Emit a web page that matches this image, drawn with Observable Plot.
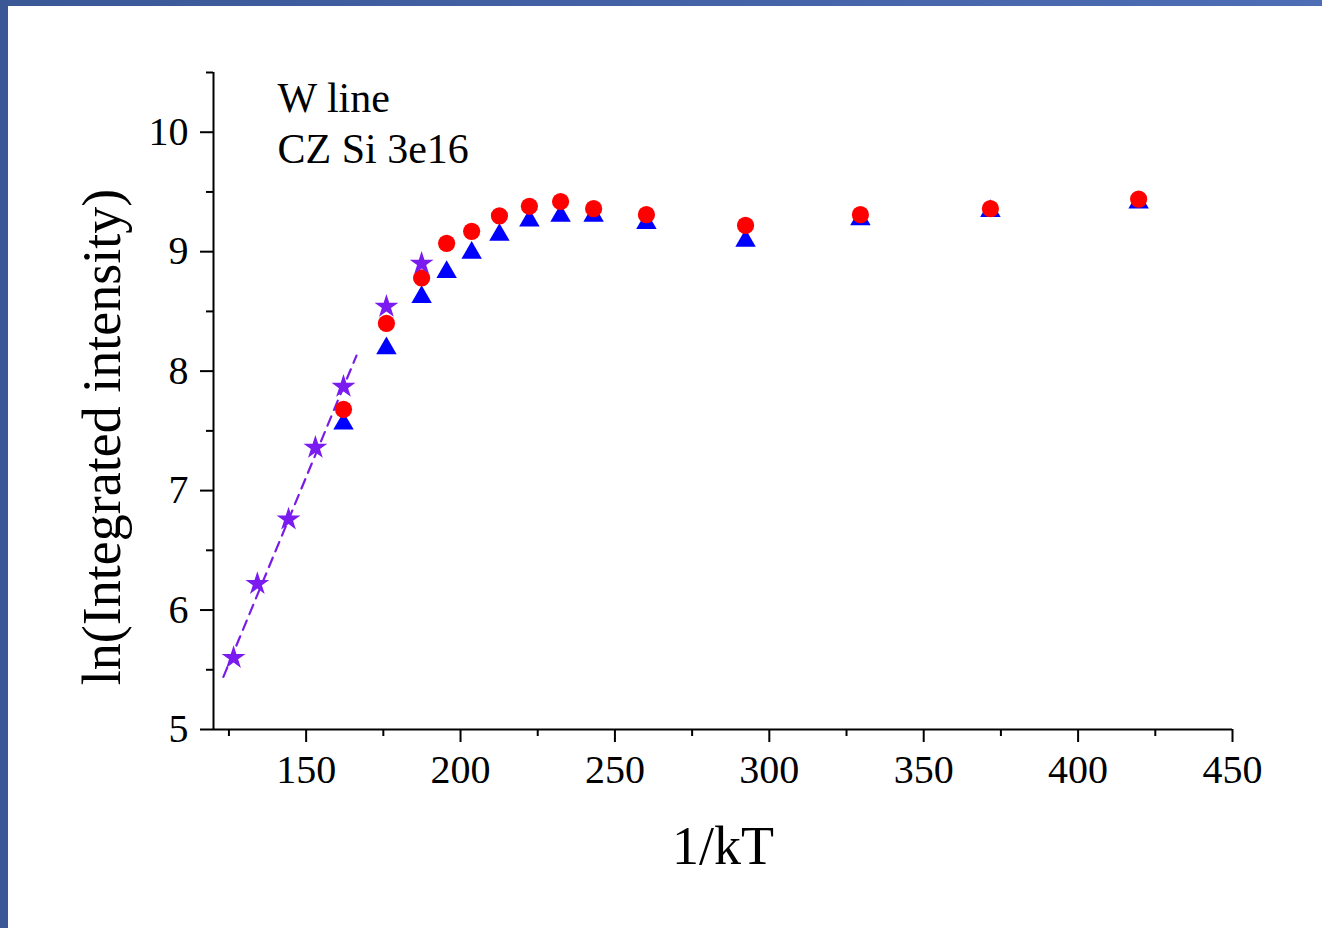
<!DOCTYPE html>
<html><head><meta charset="utf-8">
<script src="https://cdn.jsdelivr.net/npm/d3@7"></script>
<script src="https://cdn.jsdelivr.net/npm/@observablehq/plot@0.6"></script>
<style>
html,body{margin:0;padding:0;}
body{width:1322px;height:928px;overflow:hidden;background:linear-gradient(90deg,#3a5796,#4d6db5);position:relative;}
#panel{position:absolute;left:8px;top:6px;right:0;bottom:0;background:#fff;}
</style></head><body><div id="panel"></div>
<script>
// Data
const starX = [126.5, 134.2, 144.3, 153.0, 162.1, 176.0, 187.4];
const starY = [5.60, 6.22, 6.76, 7.36, 7.87, 8.54, 8.90];
const circleX = [162.1, 176.0, 187.4, 195.5, 203.6, 212.6, 222.3, 232.4, 243.1, 260.2, 292.3, 329.5, 371.6, 419.6];
const circleY = [7.68, 8.40, 8.78, 9.07, 9.17, 9.30, 9.38, 9.42, 9.36, 9.31, 9.22, 9.31, 9.36, 9.44];
const triangleX = circleX;
const triangleY = [7.56, 8.19, 8.62, 8.83, 8.99, 9.14, 9.26, 9.30, 9.30, 9.24, 9.09, 9.27, 9.34, 9.41];
const fitX = [123.2, 166.3];
const fitY = [5.44, 8.13];
const xMajor = [150, 200, 250, 300, 350, 400, 450];
const xMinor = [125, 175, 225, 275, 325, 375, 425];
const yMajor = [5, 6, 7, 8, 9, 10];
const yMinor = [5.5, 6.5, 7.5, 8.5, 9.5, 10.5];
const annotation = ["W line\nCZ Si 3e16"];
const xTitle = ["1/kT"];
const yTitle = ["ln(Integrated intensity)"];

const zip = (xs, ys) => xs.map((x, i) => ({x, y: ys[i]}));
const stars = zip(starX, starY);
const circles = zip(circleX, circleY);
const triangles = zip(triangleX, triangleY);
const fit = zip(fitX, fitY);

const chart = Plot.plot({
  width: 1314,
  height: 922,
  marginLeft: 205,
  marginRight: 90,
  marginTop: 66,
  marginBottom: 199,
  style: {fontFamily: "'Liberation Serif', 'Times New Roman', serif", fontSize: "40px", color: "#000", background: "#fff"},
  x: {domain: [120, 450]},
  y: {domain: [5, 10.5]},
  marks: [
    Plot.axisX({ticks: xMajor, tickSize: 13, tickPadding: 12, strokeWidth: 2, label: null, fontSize: 40, tickFormat: d => String(d)}),
    Plot.axisX({ticks: xMinor, tickSize: 7, strokeWidth: 2, label: null, tickFormat: () => ""}),
    Plot.axisY({ticks: yMajor, tickSize: 13, tickPadding: 12, strokeWidth: 2, label: null, fontSize: 40, tickFormat: d => String(d)}),
    Plot.axisY({ticks: yMinor, tickSize: 7, strokeWidth: 2, label: null, tickFormat: () => ""}),
    Plot.ruleY([5], {stroke: "#000", strokeWidth: 2}),
    Plot.ruleX([120], {stroke: "#000", strokeWidth: 2}),
    Plot.line(fit, {x: "x", y: "y", stroke: "#7a1ce8", strokeWidth: 2.2, strokeDasharray: "10,7"}),
    Plot.dot(triangles, {x: "x", y: "y", symbol: "triangle", r: 7.6, fill: "#0000ff", stroke: "none"}),
    Plot.dot(circles, {x: "x", y: "y", symbol: "circle", r: 8.6, fill: "#ff0000", stroke: "none"}),
    Plot.dot(stars, {x: "x", y: "y", symbol: "star", r: 7.5, fill: "#7a1cf0", stroke: "none"}),
    Plot.text(annotation, {text: d => d, frameAnchor: "top-left", textAnchor: "start", lineAnchor: "top", dx: 64, dy: 4, lineHeight: 1.2, fontSize: 42}),
    Plot.text(xTitle, {text: d => d, frameAnchor: "bottom", textAnchor: "middle", lineAnchor: "bottom", dy: 134, fontSize: 54}),
    Plot.text(yTitle, {text: d => d, frameAnchor: "left", textAnchor: "middle", lineAnchor: "middle", rotate: -90, dx: -111, dy: 36, fontSize: 54})
  ]
});
document.getElementById("panel").appendChild(chart);
</script>
</body></html>
